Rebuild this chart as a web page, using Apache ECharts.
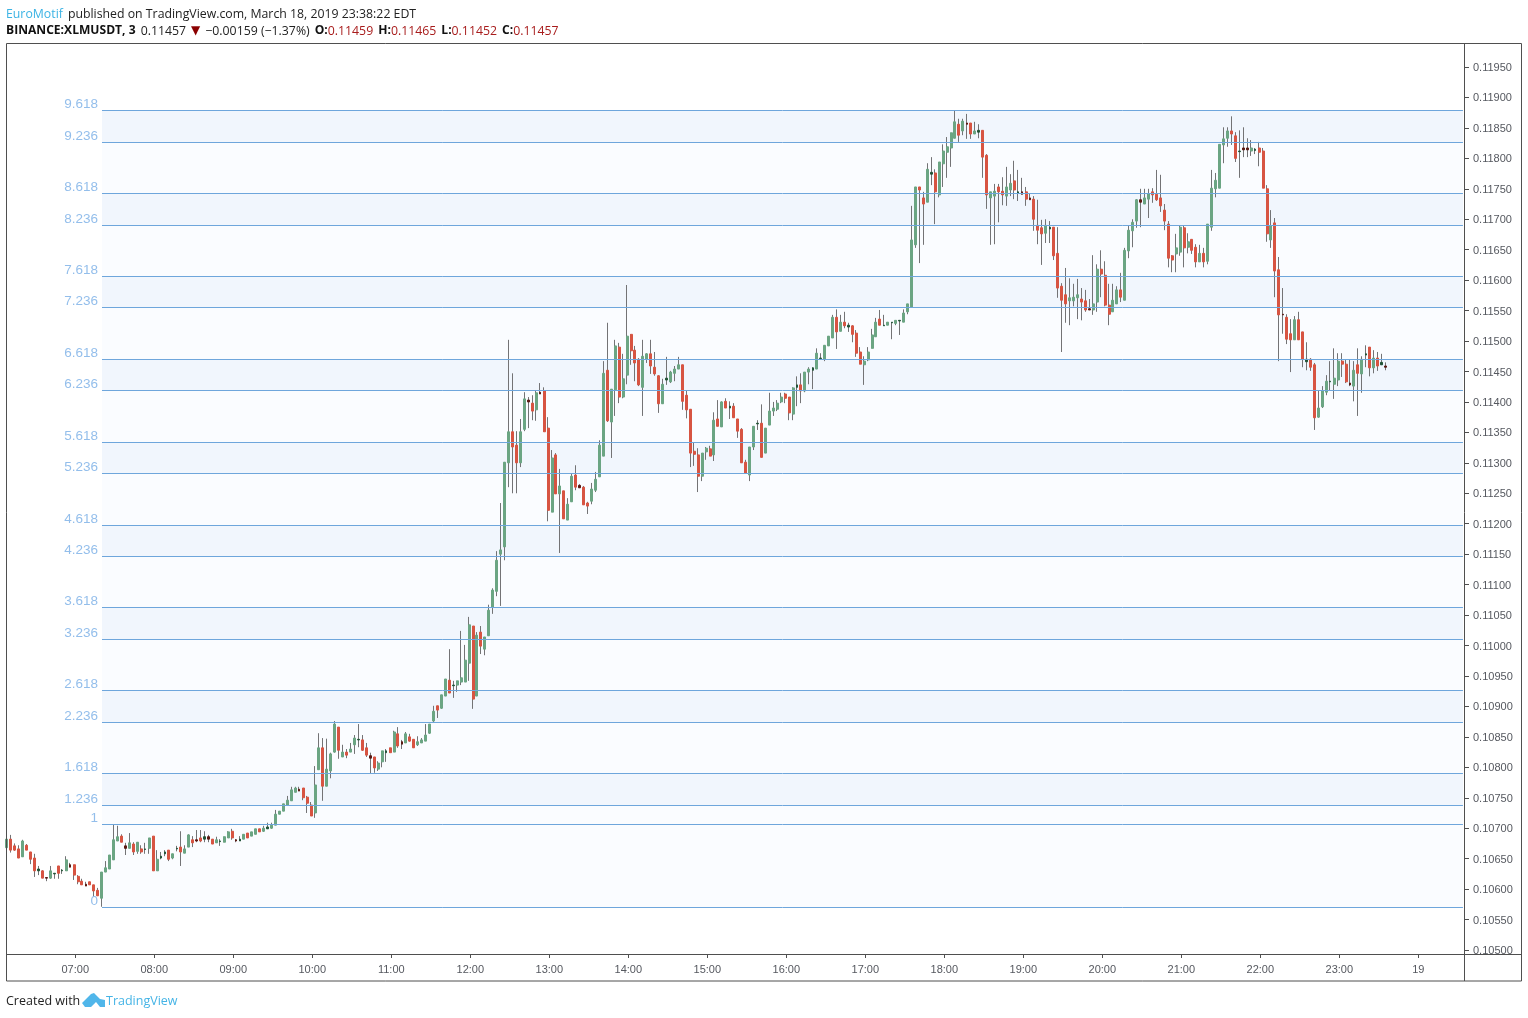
<!DOCTYPE html>
<html>
<head>
<meta charset="utf-8">
<style>html,body{margin:0;padding:0;background:#fff}#c{width:1528px;height:1018px}</style>
<script src="https://cdn.jsdelivr.net/npm/echarts@6/dist/echarts.min.js"></script>
</head>
<body>
<div id="c"></div>
<script>
// Candles as [open, high, low, close], price x 100000, grouped by clock hour
const hour06 = [[10668,10686,10664,10682],[10682,10689,10660,10664],[10671,10675,10663,10664],[10666,10672,10651,10651],[10653,10681,10653,10679],[10672,10674,10664,10664],[10661,10661,10641,10649],[10651,10658,10620,10630],[10630,10638,10623,10633],[10630,10631,10618,10618],[10619,10619,10613,10618],[10618,10638,10617,10630],[10625,10626,10617,10626],[10638,10638,10617,10626],[10630,10633,10625,10631],[10630,10654,10630,10648],[10640,10643,10636,10636],[10640,10640,10615,10623]];
const hour07 = [[10621,10623,10608,10612],[10613,10617,10607,10607],[10608,10612,10605,10605],[10612,10612,10607,10607],[10607,10607,10588,10597],[10598,10602,10589,10589],[10585,10628,10571,10628],[10628,10646,10628,10635],[10633,10656,10633,10656],[10648,10706,10648,10681],[10679,10704,10679,10686],[10687,10690,10677,10677],[10671,10676,10656,10667],[10667,10692,10667,10676],[10674,10677,10656,10661],[10662,10677,10658,10677],[10666,10672,10658,10661],[10665,10676,10658,10666],[10667,10684,10658,10684],[10687,10687,10630,10630]];
const hour08 = [[10630,10664,10630,10649],[10651,10661,10649,10654],[10658,10664,10654,10661],[10664,10664,10646,10649],[10651,10658,10649,10658],[10666,10671,10662,10667],[10669,10695,10638,10661],[10659,10672,10659,10666],[10669,10690,10669,10689],[10681,10687,10669,10676],[10681,10697,10677,10679],[10684,10697,10677,10679],[10682,10695,10677,10686],[10686,10689,10677,10682],[10682,10682,10674,10674],[10676,10686,10676,10681],[10678,10682,10671,10679],[10677,10686,10677,10686],[10684,10695,10684,10694],[10695,10699,10681,10684]];
const hour09 = [[10681,10682,10677,10679],[10679,10687,10679,10682],[10682,10690,10682,10690],[10692,10692,10684,10684],[10687,10694,10687,10694],[10690,10699,10690,10699],[10699,10699,10694,10694],[10695,10704,10694,10700],[10699,10709,10699,10702],[10700,10709,10699,10705],[10705,10730,10705,10723],[10723,10728,10723,10728],[10728,10740,10728,10740],[10738,10753,10738,10746],[10745,10768,10745,10763],[10759,10768,10759,10766],[10764,10768,10761,10761],[10766,10766,10746,10750],[10751,10753,10725,10741],[10738,10743,10720,10720]];
const hour10 = [[10725,10802,10717,10771],[10796,10856,10796,10832],[10832,10848,10745,10769],[10769,10847,10769,10797],[10794,10824,10782,10822],[10825,10876,10824,10871],[10866,10866,10814,10828],[10817,10837,10817,10825],[10825,10830,10815,10820],[10825,10840,10825,10830],[10837,10853,10822,10848],[10845,10871,10833,10846],[10845,10853,10827,10828],[10832,10840,10817,10820],[10819,10824,10789,10815],[10817,10817,10791,10799],[10797,10810,10794,10807],[10809,10827,10800,10827],[10824,10830,10809,10827],[10832,10832,10824,10824]];
const hour11 = [[10825,10860,10825,10858],[10855,10866,10832,10835],[10842,10845,10830,10838],[10840,10858,10840,10855],[10850,10855,10842,10843],[10846,10846,10832,10832],[10837,10851,10835,10842],[10840,10848,10840,10845],[10843,10871,10843,10853],[10856,10871,10855,10871],[10876,10901,10874,10892],[10901,10901,10881,10894],[10897,10919,10896,10919],[10917,10945,10917,10945],[10943,10994,10922,10922],[10934,10942,10914,10935],[10935,10942,10924,10942],[10940,11024,10935,10947],[10940,11001,10940,10976],[10971,11047,10942,11034]];
const hour12 = [[11032,11032,10896,10912],[10917,11022,10917,11017],[11022,11032,10986,10999],[10994,11014,10984,11014],[11016,11067,11016,11058],[11063,11094,11052,11091],[11089,11155,11081,11140],[11150,11234,11065,11157],[11162,11301,11140,11301],[11300,11502,11260,11351],[11351,11447,11250,11326],[11329,11352,11250,11300],[11300,11372,11293,11351],[11355,11416,11352,11405],[11403,11408,11357,11400],[11398,11411,11370,11385],[11387,11419,11369,11415],[11416,11431,11413,11413],[11418,11424,11351,11351],[11357,11375,11204,11222]];
const hour13 = [[11219,11321,11219,11308],[11313,11316,11249,11249],[11249,11290,11152,11262],[11254,11254,11208,11208],[11206,11242,11206,11232],[11236,11283,11236,11278],[11280,11296,11255,11260],[11263,11265,11259,11259],[11260,11262,11231,11231],[11234,11236,11216,11229],[11237,11267,11232,11257],[11255,11285,11252,11273],[11277,11337,11277,11329],[11311,11467,11311,11447],[11452,11530,11367,11369],[11367,11421,11308,11421],[11420,11502,11377,11492],[11490,11497,11398,11408],[11408,11479,11406,11438],[11444,11592,11429,11508]];
const hour14 = [[11511,11511,11461,11484],[11485,11492,11434,11464],[11470,11472,11426,11428],[11424,11502,11377,11475],[11470,11480,11464,11479],[11479,11502,11446,11459],[11457,11482,11443,11446],[11443,11444,11382,11397],[11397,11438,11397,11429],[11436,11474,11428,11439],[11433,11451,11431,11449],[11447,11459,11434,11454],[11454,11474,11454,11461],[11461,11461,11387,11401],[11411,11419,11373,11387],[11388,11388,11293,11316],[11319,11334,11295,11314],[11313,11324,11252,11278],[11278,11316,11270,11316],[11318,11326,11305,11324]];
const hour15 = [[11323,11328,11311,11311],[11313,11383,11303,11370],[11372,11403,11360,11360],[11359,11401,11359,11400],[11401,11406,11390,11390],[11390,11401,11372,11393],[11393,11398,11374,11374],[11372,11372,11341,11352],[11355,11357,11300,11300],[11301,11305,11283,11283],[11280,11326,11270,11326],[11326,11360,11321,11360],[11364,11370,11354,11365],[11365,11396,11309,11309],[11316,11357,11316,11357],[11362,11415,11362,11385],[11385,11400,11377,11390],[11388,11403,11385,11398],[11400,11415,11398,11408],[11413,11415,11398,11406]];
const hour16 = [[11408,11408,11370,11382],[11380,11424,11370,11423],[11424,11442,11393,11428],[11428,11447,11398,11418],[11418,11449,11416,11449],[11449,11457,11429,11454],[11452,11457,11421,11456],[11454,11488,11454,11480],[11471,11480,11470,11472],[11470,11493,11467,11493],[11492,11508,11492,11508],[11505,11543,11505,11539],[11539,11552,11487,11515],[11516,11543,11516,11531],[11531,11548,11521,11525],[11523,11530,11515,11526],[11525,11526,11498,11511],[11513,11518,11474,11480],[11482,11490,11462,11462],[11461,11475,11428,11467]];
const hour17 = [[11469,11490,11467,11482],[11488,11520,11488,11510],[11507,11538,11507,11531],[11536,11551,11526,11526],[11525,11543,11525,11526],[11526,11531,11526,11531],[11530,11531,11503,11531],[11529,11534,11526,11534],[11533,11534,11510,11534],[11531,11552,11531,11546],[11548,11561,11544,11561],[11556,11722,11556,11666],[11658,11753,11653,11753],[11753,11753,11628,11748],[11735,11745,11658,11725],[11728,11792,11728,11782],[11774,11802,11756,11777],[11776,11782,11692,11745],[11740,11794,11736,11794],[11791,11823,11753,11812]];
const hour18 = [[11810,11835,11768,11819],[11817,11842,11786,11842],[11833,11878,11833,11860],[11856,11865,11827,11838],[11845,11865,11838,11861],[11858,11873,11832,11856],[11858,11858,11832,11840],[11840,11860,11840,11845],[11843,11856,11833,11846],[11846,11846,11768,11802],[11805,11807,11717,11740],[11735,11745,11658,11745],[11738,11758,11659,11746],[11753,11758,11695,11745],[11746,11769,11723,11740],[11738,11786,11722,11753],[11748,11774,11738,11759],[11763,11796,11733,11748],[11743,11781,11730,11745],[11745,11768,11741,11741]];
const hour19 = [[11745,11753,11722,11733],[11735,11743,11732,11732],[11733,11738,11681,11700],[11690,11732,11659,11682],[11686,11699,11625,11676],[11677,11700,11661,11690],[11684,11697,11661,11687],[11687,11687,11633,11640],[11644,11687,11571,11587],[11590,11595,11482,11567],[11576,11620,11530,11561],[11566,11603,11526,11571],[11566,11594,11557,11572],[11571,11602,11536,11576],[11569,11587,11534,11564],[11566,11584,11548,11551],[11553,11569,11551,11551],[11551,11641,11543,11561],[11564,11626,11548,11618],[11618,11649,11572,11610]];
const hour20 = [[11608,11631,11557,11559],[11559,11594,11526,11544],[11548,11594,11548,11567],[11561,11590,11561,11584],[11584,11612,11564,11572],[11567,11653,11567,11649],[11648,11690,11636,11682],[11681,11700,11654,11695],[11697,11733,11686,11732],[11732,11750,11687,11728],[11725,11750,11725,11735],[11733,11750,11702,11742],[11745,11751,11727,11740],[11741,11781,11730,11732],[11735,11773,11712,11722],[11715,11725,11682,11697],[11692,11697,11621,11636],[11640,11641,11613,11633],[11643,11676,11613,11653],[11646,11689,11640,11687]];
const hour21 = [[11686,11689,11621,11653],[11654,11677,11644,11663],[11667,11667,11643,11649],[11654,11659,11621,11630],[11630,11658,11630,11644],[11644,11653,11621,11630],[11631,11692,11626,11692],[11687,11781,11681,11751],[11750,11776,11736,11764],[11751,11823,11751,11823],[11822,11851,11792,11832],[11833,11851,11819,11845],[11845,11869,11822,11840],[11837,11843,11794,11800],[11811,11846,11768,11812],[11817,11851,11802,11814],[11817,11833,11802,11814],[11812,11830,11804,11817],[11813,11817,11807,11815],[11817,11827,11787,11810]];
const hour22 = [[11812,11817,11751,11751],[11750,11756,11663,11676],[11666,11715,11653,11689],[11694,11702,11572,11615],[11617,11638,11467,11543],[11544,11587,11512,11543],[11539,11544,11495,11503],[11512,11536,11449,11502],[11502,11541,11502,11535],[11535,11548,11502,11502],[11515,11515,11457,11470],[11466,11498,11452,11470],[11470,11472,11451,11457],[11461,11464,11354,11374],[11375,11419,11374,11390],[11392,11426,11390,11418],[11416,11444,11411,11434],[11433,11467,11419,11434],[11429,11488,11405,11439],[11436,11480,11426,11467]];
const hour23 = [[11467,11480,11441,11462],[11462,11470,11431,11433],[11431,11469,11426,11428],[11426,11467,11401,11452],[11461,11488,11377,11447],[11446,11475,11415,11470],[11477,11493,11457,11479],[11490,11490,11442,11456],[11456,11485,11447,11472],[11472,11482,11451,11459],[11461,11479,11461,11465],[11459,11465,11452,11457]];

// Fibonacci extension levels and their prices (x 100000)
const fibLabels = ['0','1','1.236','1.618','2.236','2.618','3.236','3.618','4.236','4.618','5.236','5.618','6.236','6.618','7.236','7.618','8.236','8.618','9.236','9.618'];
const fibPrices = [10569.8,10706.1,10737.3,10789.8,10873.6,10926.1,11009.9,11062.4,11146.2,11197.1,11282.5,11333.4,11418.8,11469.7,11555.1,11606,11689.7,11742.3,11826,11878.6];
// Axis ticks
const timeTickMinutes = [60,120,180,240,300,360,420,480,540,600,660,720,780,840,900,960,1020,1080];
const timeTickLabels = ['07:00','08:00','09:00','10:00','11:00','12:00','13:00','14:00','15:00','16:00','17:00','18:00','19:00','20:00','21:00','22:00','23:00','19'];
const priceTickLabels = ['0.10500','0.10550','0.10600','0.10650','0.10700','0.10750','0.10800','0.10850','0.10900','0.10950','0.11000','0.11050','0.11100','0.11150','0.11200','0.11250','0.11300','0.11350','0.11400','0.11450','0.11500','0.11550','0.11600','0.11650','0.11700','0.11750','0.11800','0.11850','0.11900','0.11950'];
// Horizontal scale: minutes after 06:00
const firstCandleMinute = 8.1, candleStep = 3, fibStartMinute = 80.3, fibEndMinute = 1113.9;
const xMin = 7.4, xMax = 1114.7, yMin = 0.1049343, yMax = 0.1198777;

const UP = '#6ba583', DOWN = '#d75442', UP_DARK = '#225437', DOWN_DARK = '#5b1a13', WICK = '#737375';
const FIB_LINE = '#6ea6dc', BAND_DARK = '#f1f6fd', BAND_LIGHT = '#fafcff', FIB_TEXT = '#78aee6';
const FRAME = '#4f4f4f', AXIS_TEXT = '#55585f';

const rows = [].concat(hour06,hour07,hour08,hour09,hour10,hour11,hour12,hour13,hour14,hour15,hour16,hour17,hour18,hour19,hour20,hour21,hour22,hour23);
const wickData = rows.map((r,i)=>[firstCandleMinute+candleStep*i, r[0]/1e5, r[3]/1e5, r[2]/1e5, r[1]/1e5]);
const isThin = r => Math.abs(r[3]-r[0])<=4;
const bodyItem = (r,i,thin) => {
  const o=r[0], c=r[3], up=c>=o;
  const col = thin ? (up?UP_DARK:DOWN_DARK) : (up?UP:DOWN);
  return {value:[firstCandleMinute+candleStep*i, o/1e5, c/1e5, Math.min(o,c)/1e5, Math.max(o,c)/1e5],
          itemStyle:{color:col,color0:col,borderColor:col,borderColor0:col,borderWidth:1}};
};
const thickBodies = [], thinBodies = [];
rows.forEach((r,i)=>{ if(isThin(r)) thinBodies.push(bodyItem(r,i,true)); else thickBodies.push(bodyItem(r,i,false)); });

const fibBands = [];
for (let i=0;i<fibPrices.length-1;i++){
  const dark = i>=2 && i%2===0;
  fibBands.push([{coord:[fibStartMinute,fibPrices[i]/1e5],itemStyle:{color:dark?BAND_DARK:BAND_LIGHT}},{coord:[fibEndMinute,fibPrices[i+1]/1e5]}]);
}
const fibLines = fibPrices.map(p=>[{coord:[fibStartMinute,p/1e5]},{coord:[fibEndMinute,p/1e5]}]);

const chart = echarts.init(document.getElementById('c'),null,{renderer:'canvas'});
const HEAD = '"Open Sans",sans-serif';
const plain = (color,size)=>({fontFamily:HEAD,fontSize:size||12.3,fontWeight:'normal',color});
chart.setOption({
  animation:false,
  backgroundColor:'#fff',
  title:[
    {left:6,top:5,padding:0,text:'{a|EuroMotif} {b|published on TradingView.com, March 18, 2019 23:38:22 EDT}',
     textStyle:{fontWeight:'normal',rich:{a:plain('#3bb3e4'),b:plain('#222')}}},
    {left:6,top:22,padding:0,text:'{k|BINANCE:XLMUSDT, 3} {b|0.11457} {t|▼} {b|−0.00159 (−1.37%)} {k|O:}{r|0.11459} {k|H:}{r|0.11465} {k|L:}{r|0.11452} {k|C:}{r|0.11457}',
     textStyle:{fontWeight:'normal',rich:{k:{fontFamily:HEAD,fontSize:12.1,fontWeight:'bold',color:'#111'},b:plain('#222'),r:plain('#a81c1c'),t:{fontFamily:'"DejaVu Sans"',fontSize:12,color:'#8b0000'}}}},
    {left:6,top:995,padding:0,text:'{a|Created with}',textStyle:{fontWeight:'normal',rich:{a:plain('#222',12.5)}}},
    {left:106,top:995,padding:0,text:'{a|TradingView}',textStyle:{fontWeight:'normal',rich:{a:plain('#45b4e6',12.5)}}}
  ],
  grid:{left:6,top:44,width:1458,height:910,containLabel:false},
  xAxis:{type:'value',min:xMin,max:xMax,splitLine:{show:false},axisLine:{show:false},
    axisTick:{show:true,length:4,lineStyle:{color:FRAME},customValues:timeTickMinutes},
    axisLabel:{show:true,margin:10,fontFamily:'"Liberation Sans",Arial,sans-serif',fontSize:11,color:AXIS_TEXT,
      customValues:timeTickMinutes,formatter:v=>timeTickLabels[timeTickMinutes.indexOf(v)]}},
  yAxis:{type:'value',position:'right',min:yMin,max:yMax,splitLine:{show:false},axisLine:{show:false},
    axisTick:{show:true,length:5,lineStyle:{color:FRAME},customValues:priceTickLabels.map(Number)},
    axisLabel:{show:true,margin:9,fontFamily:'"Liberation Sans",Arial,sans-serif',fontSize:11,color:AXIS_TEXT,
      customValues:priceTickLabels.map(Number),formatter:v=>'{a|'+v.toFixed(5)+'}',
      rich:{a:{fontFamily:'"Liberation Sans",Arial,sans-serif',fontSize:11,color:AXIS_TEXT,padding:[2,0,0,0]}}}},
  series:[
    {name:'bands',type:'line',data:[],silent:true,z:1,markArea:{silent:true,z:1,data:fibBands}},
    {name:'wicks',type:'candlestick',z:3,barWidth:1,silent:true,data:wickData,
     itemStyle:{color:WICK,color0:WICK,borderColor:WICK,borderColor0:WICK,borderWidth:1}},
    {name:'bodies',type:'candlestick',z:4,barWidth:2.5,silent:true,data:thickBodies},
    {name:'thinBodies',type:'candlestick',z:4,barWidth:2,silent:true,data:thinBodies},
    {name:'fibLines',type:'line',data:[],silent:true,z:5,
     markLine:{silent:true,symbol:'none',z:5,label:{show:false},lineStyle:{color:FIB_LINE,width:1,type:'solid'},data:fibLines}},
    {name:'fibText',type:'scatter',z:6,silent:true,symbolSize:0,clip:false,
     data:fibPrices.map((p,i)=>({value:[fibStartMinute,p/1e5],label:{formatter:fibLabels[i]}})),
     label:{show:true,position:'left',distance:4,offset:[0,-6],fontFamily:'"Liberation Sans",Arial,sans-serif',fontSize:13.5,color:FIB_TEXT}}
  ],
  graphic:[
    {type:'rect',silent:true,z:10,shape:{x:6.5,y:43.5,width:1515,height:937.5},style:{fill:'none',stroke:FRAME,lineWidth:1}},
    {type:'line',silent:true,z:10,shape:{x1:1464.5,y1:44,x2:1464.5,y2:981},style:{stroke:FRAME,lineWidth:1}},
    {type:'line',silent:true,z:10,shape:{x1:6,y1:954.5,x2:1522,y2:954.5},style:{stroke:FRAME,lineWidth:1}},
    {type:'polygon',silent:true,z:10,shape:{points:[[82,1003],[91,994],[94,993],[100,999],[105,1000],[105,1007],[100,1007],[96,1002],[91,1007],[85,1007]]},style:{fill:'#50b6ea'}}
  ]
});
</script>
</body>
</html>
